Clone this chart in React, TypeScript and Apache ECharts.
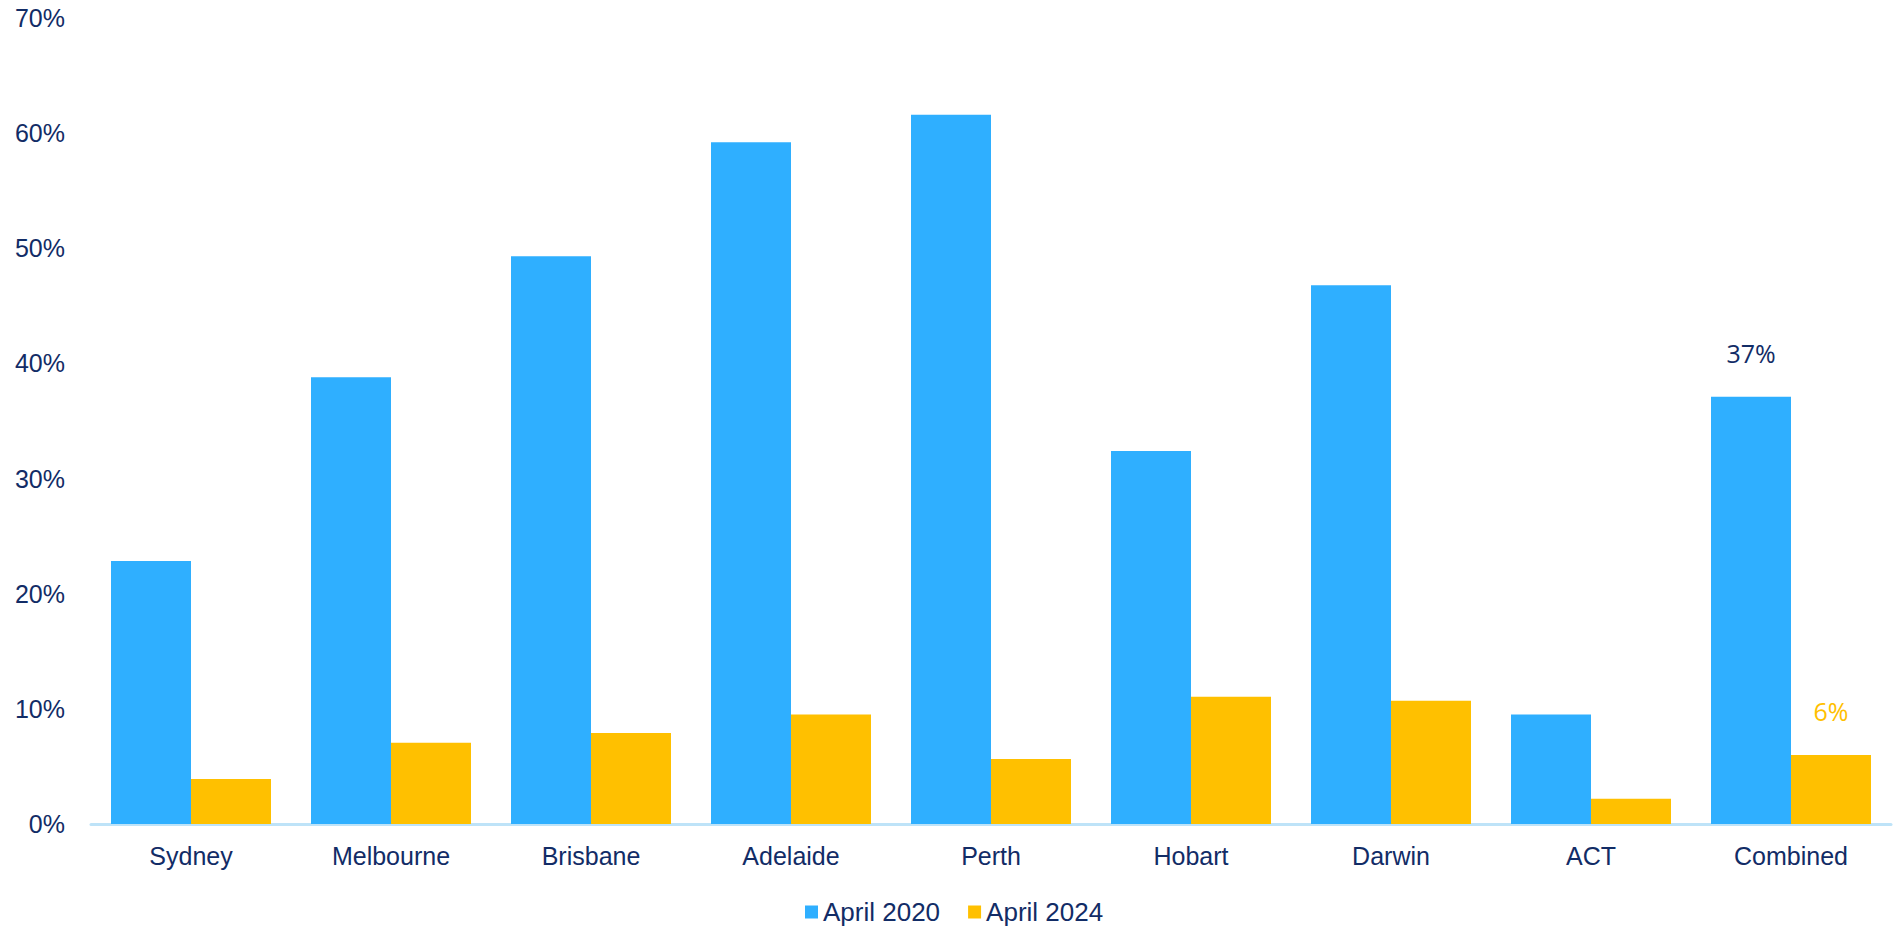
import React, { useEffect, useRef } from "react";
import * as echarts from "echarts";

const categories = ["Sydney", "Melbourne", "Brisbane", "Adelaide", "Perth", "Hobart", "Darwin", "ACT", "Combined"];
const april2020 = [22.85, 38.8, 49.3, 59.2, 61.6, 32.4, 46.8, 9.5, 37.1];
const april2024 = [3.9, 7.05, 7.9, 9.5, 5.65, 11.05, 10.7, 2.2, 6.0];
const yTicks = [0, 10, 20, 30, 40, 50, 60, 70];
const labelledCategory = "Combined";

const NAVY = "#122C66";
const BLUE = "#2FAFFF";
const GOLD = "#FFC000";

export default function App() {
  const ref = useRef<HTMLDivElement>(null);
  useEffect(() => {
    if (!ref.current) return;
    const chart = echarts.init(ref.current, undefined, { renderer: "svg" });
    const mkData = (vals: number[], color: string) =>
      vals.map((v, i) => ({
        value: v,
        label: {
          show: categories[i] === labelledCategory,
          position: "top",
          distance: 31,
          formatter: () => `${Math.round(v)}%`,
          fontFamily: "Open Sans",
          fontSize: 25,
          color,
        },
      }));
    chart.setOption({
      animation: false,
      backgroundColor: "#ffffff",
      grid: { left: 91, right: 9, top: 18, bottom: 104, containLabel: false },
      legend: {
        data: ["April 2020", "April 2024"],
        left: 805,
        top: 898,
        padding: 0,
        icon: "rect",
        itemWidth: 13,
        itemHeight: 13,
        itemGap: 28,
        textStyle: { fontFamily: "Liberation Sans, Arial", fontSize: 26, color: NAVY, lineHeight: 28 },
      },
      xAxis: {
        type: "category",
        data: categories,
        axisLine: { show: true, lineStyle: { color: "#BEE3F8", width: 3 } },
        axisTick: { show: false },
        axisLabel: { margin: 19, fontFamily: "Liberation Sans, Arial", fontSize: 25, color: NAVY },
      },
      yAxis: {
        type: "value",
        min: yTicks[0],
        max: yTicks[yTicks.length - 1],
        interval: 10,
        splitLine: { show: false },
        axisLine: { show: false },
        axisTick: { show: false },
        axisLabel: {
          margin: 26,
          formatter: "{value}%",
          fontFamily: "Liberation Sans, Arial",
          fontSize: 25,
          color: NAVY,
        },
      },
      series: [
        {
          name: "April 2020",
          type: "bar",
          data: mkData(april2020, NAVY),
          itemStyle: { color: BLUE },
          barGap: "0%",
          barCategoryGap: "20%",
        },
        {
          name: "April 2024",
          type: "bar",
          data: mkData(april2024, GOLD),
          itemStyle: { color: GOLD },
          barGap: "0%",
          barCategoryGap: "20%",
        },
      ],
    });
    return () => chart.dispose();
  }, []);
  return (
    <div
      ref={ref}
      style={{ position: "fixed", left: 0, top: 0, width: 1900, height: 928, background: "#fff" }}
    />
  );
}
